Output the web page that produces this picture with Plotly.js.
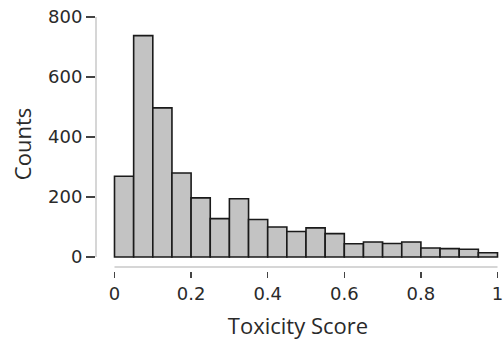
<!DOCTYPE html>
<html>
<head>
<meta charset="utf-8">
<script src="https://cdn.plot.ly/plotly-3.0.1.min.js"></script>
<style>html,body{margin:0;padding:0;background:#fff;}#chart{width:504px;height:340px;}</style>
</head>
<body>
<div id="chart"></div>
<script>
// Histogram bins (0.05 wide) of toxicity score
const binCenters = [0.025, 0.075, 0.125, 0.175, 0.225, 0.275, 0.325, 0.375, 0.425, 0.475,
                    0.525, 0.575, 0.625, 0.675, 0.725, 0.775, 0.825, 0.875, 0.925, 0.975];
const counts = [269, 738, 497, 280, 197, 128, 194, 125, 100, 85,
                97, 78, 44, 50, 45, 50, 30, 28, 26, 14];
const xTicks = [0, 0.2, 0.4, 0.6, 0.8, 1];
const xTickLabels = ['0', '0.2', '0.4', '0.6', '0.8', '1'];
const yTicks = [0, 200, 400, 600, 800];
const yTickLabels = ['0', '200', '400', '600', '800'];

const tickFont = "DejaVu Sans, sans-serif";
const titleFont = "Open Sans, DejaVu Sans, sans-serif";

const trace = {
  type: 'bar',
  x: binCenters,
  y: counts,
  width: 0.05,
  marker: {color: '#c3c3c3', line: {color: '#1a1a1a', width: 1.6}},
  hoverinfo: 'x+y'
};

const layout = {
  width: 504, height: 340,
  margin: {l: 96, r: 4, t: 17, b: 69},
  paper_bgcolor: '#fff', plot_bgcolor: '#fff',
  showlegend: false,
  bargap: 0,
  font: {family: tickFont, color: '#2a2a2a', size: 18},
  xaxis: {
    range: [-0.0483, 1.0065],
    tickvals: xTicks, ticktext: xTickLabels,
    ticks: 'outside', ticklen: 6, tickwidth: 1.5, tickcolor: '#444',
    showline: false, showgrid: false, zeroline: false,
    tickfont: {family: tickFont, size: 18, color: '#2a2a2a'},
    title: {text: 'Toxicity Score', font: {family: titleFont, size: 22, color: '#2a2a2a'}, standoff: 17}
  },
  yaxis: {
    range: [-46.7, 800],
    tickvals: yTicks, ticktext: yTickLabels,
    ticks: 'outside', ticklen: 9, tickwidth: 1.5, tickcolor: '#444',
    showline: false, showgrid: false, zeroline: false,
    tickfont: {family: tickFont, size: 18, color: '#2a2a2a'},
    title: {text: 'Counts', font: {family: titleFont, size: 22, color: '#2a2a2a'}, standoff: 10}
  },
  shapes: [
    {type: 'line', xref: 'paper', yref: 'y', x0: 0, x1: 0, y0: 0, y1: 800,
     line: {color: '#c8c8c8', width: 1.5}},
    {type: 'line', xref: 'x', yref: 'y', x0: 0, x1: 1, y0: -33, y1: -33,
     line: {color: '#c8c8c8', width: 1.5}}
  ]
};

Plotly.newPlot('chart', [trace], layout, {displayModeBar: false, staticPlot: true});
</script>
</body>
</html>
